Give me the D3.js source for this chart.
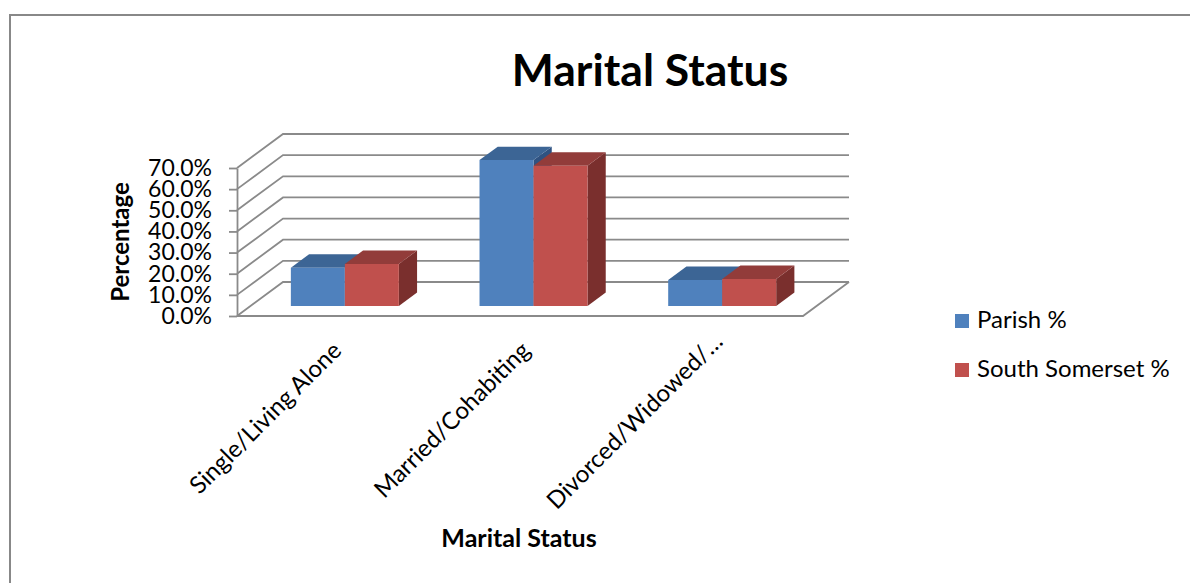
<!DOCTYPE html>
<html>
<head>
<meta charset="utf-8">
<script src="https://cdn.jsdelivr.net/npm/d3@7"></script>
<style>
    html, body { margin: 0; padding: 0; background: #ffffff; }
    svg { display: block; font-family: Lato, 'Open Sans', sans-serif; }
</style>
</head>
<body>
<svg id="chart" width="1190" height="583"></svg>
<script>
// Chart data
const categories = ['Single/Living Alone', 'Married/Cohabiting', 'Divorced/Widowed/\u2026'];
const seriesNames = ['Parish %', 'South Somerset %'];
const parishValues = [0.181, 0.690, 0.123];
const southSomersetValues = [0.199, 0.663, 0.128];
const yTicks = [0, 0.1, 0.2, 0.3, 0.4, 0.5, 0.6, 0.7];

const chartTitle = 'Marital Status';
const xTitle = 'Marital Status';
const yTitle = 'Percentage';

/**
 * Bar3DChart - draws a clustered column chart with an oblique 3D look
 */
class Bar3DChart {
    constructor(svg) {
        this.svg = svg;
        // front-left corner of the floor, plot width, depth vector
        this.origin = { x: 237, y: 316 };
        this.plotWidth = 566;
        this.depth = { dx: 46, dy: -34 };
        // bars sit between these depth fractions
        this.barFront = 0.294;
        this.barBack = 0.69;

        this.y = d3.scaleLinear().domain([0, 0.7]).range([0, 148]);
        this.x0 = d3.scaleBand().domain(categories).range([0, this.plotWidth]);
        this.x1 = d3.scaleBand().domain(seriesNames)
            .range([0, this.x0.bandwidth()])
            .paddingOuter(0.747);

        this.colors = {
            'Parish %': { front: '#4f81bd', top: '#3c6595', side: '#2f5281' },
            'South Somerset %': { front: '#c0504d', top: '#923c3a', side: '#7a2f2d' }
        };
    }

    /**
     * Project plot coordinates (x along floor, value, depth fraction) to screen
     */
    P(x, v, d) {
        return [
            this.origin.x + x + d * this.depth.dx,
            this.origin.y - this.y(v) + d * this.depth.dy
        ];
    }

    poly(pts) {
        return 'M' + pts.map(p => p.join(',')).join('L') + 'Z';
    }

    render() {
        this.drawBorder();
        this.drawWalls();
        this.drawAxis();
        this.drawBars();
        this.drawLabels();
        this.drawLegend();
    }

    drawBorder() {
        this.svg.append('path')
            .attr('d', 'M10,583V15H1190')
            .attr('fill', 'none')
            .attr('stroke', '#888888')
            .attr('stroke-width', 2);
    }

    /**
     * Gridlines on the back wall and left wall, plus the floor outline
     */
    drawWalls() {
        const g = this.svg.append('g').attr('class', 'walls')
            .attr('fill', 'none')
            .attr('stroke', '#8a8a8a')
            .attr('stroke-width', 1.8);

        yTicks.forEach(t => {
            g.append('path')
                .attr('d', 'M' + [this.P(0, t, 0), this.P(0, t, 1), this.P(this.plotWidth, t, 1)]
                    .map(p => p.join(',')).join('L'));
        });

        // floor front and right edges
        g.append('path')
            .attr('d', 'M' + [this.P(0, 0, 0), this.P(this.plotWidth, 0, 0), this.P(this.plotWidth, 0, 1)]
                .map(p => p.join(',')).join('L'));
    }

    drawAxis() {
        const yAxisScale = d3.scaleLinear()
            .domain([0, 0.7])
            .range([this.origin.y, this.origin.y - 148]);

        const axis = d3.axisLeft(yAxisScale)
            .tickValues(yTicks)
            .tickFormat(d3.format('.1%'))
            .tickSize(8)
            .tickSizeOuter(0)
            .tickPadding(17);

        const g = this.svg.append('g')
            .attr('class', 'y-axis')
            .attr('transform', `translate(${this.origin.x},0)`)
            .call(axis);

        g.select('.domain').attr('stroke', '#8a8a8a').attr('stroke-width', 1.8);
        g.selectAll('.tick line').attr('stroke', '#8a8a8a').attr('stroke-width', 1.8);
        g.selectAll('.tick text')
            .attr('font-family', 'Lato, sans-serif')
            .attr('font-size', '23px')
            .attr('fill', '#000000');
    }

    drawBars() {
        const series = [
            { name: seriesNames[0], values: parishValues },
            { name: seriesNames[1], values: southSomersetValues }
        ];
        const g = this.svg.append('g').attr('class', 'bars');
        const df = this.barFront;
        const db = this.barBack;

        categories.forEach((cat, i) => {
            series.forEach(s => {
                const v = s.values[i];
                const xl = this.x0(cat) + this.x1(s.name);
                const xr = xl + this.x1.bandwidth();
                const c = this.colors[s.name];
                const bar = g.append('g').attr('class', 'bar');

                bar.append('path')
                    .attr('d', this.poly([this.P(xr, 0, df), this.P(xr, 0, db), this.P(xr, v, db), this.P(xr, v, df)]))
                    .attr('fill', c.side);
                bar.append('path')
                    .attr('d', this.poly([this.P(xl, v, df), this.P(xr, v, df), this.P(xr, v, db), this.P(xl, v, db)]))
                    .attr('fill', c.top);
                bar.append('path')
                    .attr('d', this.poly([this.P(xl, 0, df), this.P(xr, 0, df), this.P(xr, v, df), this.P(xl, v, df)]))
                    .attr('fill', c.front);
            });
        });
    }

    drawLabels() {
        // chart title
        this.svg.append('text')
            .attr('x', 650)
            .attr('y', 86)
            .attr('text-anchor', 'middle')
            .attr('font-size', '44.5px')
            .attr('font-weight', 'bold')
            .text(chartTitle);

        // y axis title
        this.svg.append('text')
            .attr('transform', 'translate(129,242) rotate(-90)')
            .attr('text-anchor', 'middle')
            .attr('font-size', '24px')
            .attr('font-weight', 'bold')
            .text(yTitle);

        // rotated category labels, ending under the bar cluster centre;
        // a truncated label (ending in an ellipsis) sits a little higher
        const df = this.barFront;
        this.svg.append('g').attr('class', 'x-labels')
            .selectAll('text')
            .data(categories)
            .join('text')
            .attr('transform', d => {
                const p = this.P(this.x0(d) + this.x0.bandwidth() / 2, 0, df);
                const nudge = d.endsWith('\u2026') ? 9 : 0;
                return `translate(${p[0] - 2 + nudge * 0.45},${352 - nudge}) rotate(-45)`;
            })
            .attr('text-anchor', 'end')
            .attr('font-size', '24px')
            .text(d => d);

        // x axis title
        this.svg.append('text')
            .attr('x', 519)
            .attr('y', 547)
            .attr('text-anchor', 'middle')
            .attr('font-size', '25px')
            .attr('font-weight', 'bold')
            .text(xTitle);
    }

    drawLegend() {
        const legend = this.svg.append('g')
            .attr('class', 'legend')
            .attr('transform', 'translate(955,0)');

        const rows = legend.selectAll('g')
            .data(seriesNames)
            .join('g')
            .attr('transform', (d, i) => `translate(0,${328 + i * 49})`);

        rows.append('rect')
            .attr('x', 0)
            .attr('y', -14)
            .attr('width', 14)
            .attr('height', 14)
            .attr('fill', d => this.colors[d].front);

        rows.append('text')
            .attr('x', 22)
            .attr('y', 0)
            .attr('font-size', '24px')
            .text(d => d);
    }
}

const chart = new Bar3DChart(d3.select('#chart'));
chart.render();
</script>
</body>
</html>
